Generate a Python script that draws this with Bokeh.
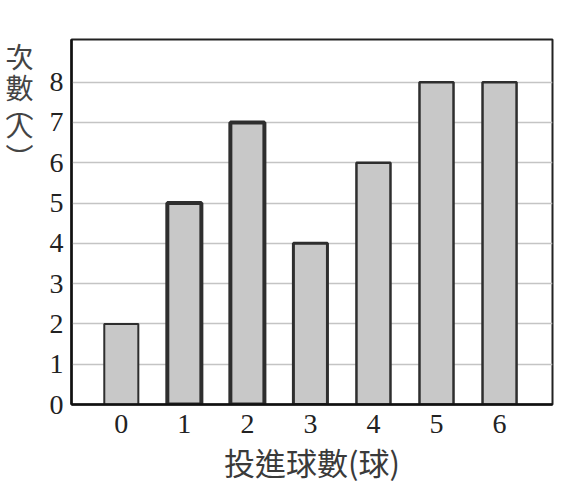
from bokeh.plotting import figure
from bokeh.models import ColumnDataSource, FixedTicker, Range1d, LinearAxis
from bokeh.embed import file_html
from bokeh.resources import INLINE

# data
goals = [0, 1, 2, 3, 4, 5, 6]
counts = [2, 5, 7, 4, 6, 8, 8]
y_ticks = [0, 1, 2, 3, 4, 5, 6, 7, 8]

# outline widths differ a little per bar in the original
outline_w = [2, 4, 4, 3, 2.5, 2.5, 2.5]

# y title is written top-down, one character per line
y_title = ["次", "數", "︵", "人", "︶"]
y_title_at = [8.66, 7.87, 7.4, 6.95, 6.14]

source = ColumnDataSource(data=dict(x=goals, top=counts, lw=outline_w))

p = figure(width=554, height=486, output_backend="svg", toolbar_location=None,
           tools="", x_range=Range1d(-0.79, 6.84), y_range=Range1d(0, 9.06),
           min_border_left=71, min_border_top=39, min_border_right=2,
           min_border_bottom=81)

p.vbar(x="x", top="top", width=0.54, bottom=0, source=source,
       fill_color="#c8c8c8", line_color="#2e2e2e", line_width="lw")

p.xgrid.grid_line_color = None
p.ygrid.grid_line_color = "#c4c4c4"
p.ygrid.grid_line_width = 1.5
p.ygrid.ticker = FixedTicker(ticks=y_ticks)

p.outline_line_color = "#222222"
p.outline_line_width = 2

p.xaxis.ticker = FixedTicker(ticks=goals)
p.yaxis.ticker = FixedTicker(ticks=y_ticks)
for ax in (p.xaxis, p.yaxis):
    ax.axis_line_color = "#111111"
    ax.axis_line_width = 2.5
    ax.major_tick_out = 0
    ax.major_tick_in = 0
    ax.major_tick_line_color = None
    ax.minor_tick_line_color = None
    ax.major_label_text_font = "Liberation Serif"
    ax.major_label_text_font_size = "28px"
    ax.major_label_text_color = "#222222"
p.yaxis.major_label_standoff = 8
p.xaxis.major_label_standoff = 10

# x-axis title
p.xaxis.axis_label = "投進球數(球)"
p.xaxis.axis_label_text_font = "Noto Sans CJK TC"
p.xaxis.axis_label_text_font_style = "normal"
p.xaxis.axis_label_text_font_size = "31px"
p.xaxis.axis_label_text_color = "#3a3a3a"
p.xaxis.axis_label_standoff = 3

# y title as a second left axis without line or ticks
title_axis = LinearAxis(ticker=FixedTicker(ticks=y_title_at),
                        major_label_overrides=dict(zip(y_title_at, y_title)))
title_axis.axis_line_color = None
title_axis.major_tick_line_color = None
title_axis.minor_tick_line_color = None
title_axis.major_tick_out = 0
title_axis.major_tick_in = 0
title_axis.major_label_standoff = 13
title_axis.major_label_text_font = "Noto Sans CJK TC"
title_axis.major_label_text_font_size = "28px"
title_axis.major_label_text_color = "#444444"
p.add_layout(title_axis, "left")

open("out.html", "w").write(file_html(p, INLINE))
